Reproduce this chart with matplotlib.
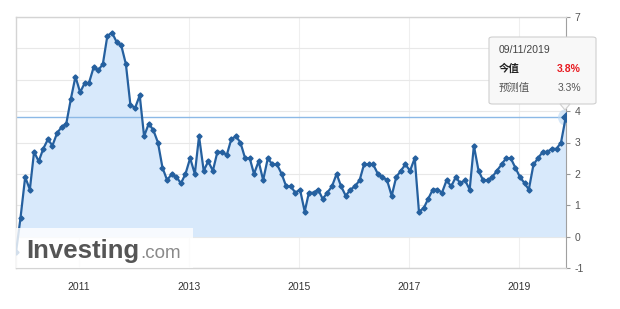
import pandas as pd
import matplotlib.pyplot as plt
from matplotlib.patches import FancyBboxPatch, Polygon

# China CPI YoY (%), Oct 2009 .. Oct 2019, plotted at release dates
cpi = [
    -0.5, 0.6, 1.9,
    1.5, 2.7, 2.4, 2.8, 3.1, 2.9, 3.3, 3.5, 3.6, 4.4, 5.1, 4.6,
    4.9, 4.9, 5.4, 5.3, 5.5, 6.4, 6.5, 6.2, 6.1, 5.5, 4.2, 4.1,
    4.5, 3.2, 3.6, 3.4, 3.0, 2.2, 1.8, 2.0, 1.9, 1.7, 2.0, 2.5,
    2.0, 3.2, 2.1, 2.4, 2.1, 2.7, 2.7, 2.6, 3.1, 3.2, 3.0, 2.5,
    2.5, 2.0, 2.4, 1.8, 2.5, 2.3, 2.3, 2.0, 1.6, 1.6, 1.4, 1.5,
    0.8, 1.4, 1.4, 1.5, 1.2, 1.4, 1.6, 2.0, 1.6, 1.3, 1.5, 1.6,
    1.8, 2.3, 2.3, 2.3, 2.0, 1.9, 1.8, 1.3, 1.9, 2.1, 2.3, 2.1,
    2.5, 0.8, 0.9, 1.2, 1.5, 1.5, 1.4, 1.8, 1.6, 1.9, 1.7, 1.8,
    1.5, 2.9, 2.1, 1.8, 1.8, 1.9, 2.1, 2.3, 2.5, 2.5, 2.2, 1.9,
    1.7, 1.5, 2.3, 2.5, 2.7, 2.7, 2.8, 2.8, 3.0, 3.8,
]
release_dates = pd.date_range('2009-11-01', periods=len(cpi), freq='MS') + pd.Timedelta(days=8)
year_ticks = pd.to_datetime(['2011-01-01', '2013-01-01', '2015-01-01', '2017-01-01', '2019-01-01'])
year_labels = ['2011', '2013', '2015', '2017', '2019']
y_ticks = [-1, 0, 1, 2, 3, 4, 5, 6, 7]
y_labels = ['-1', '0', '1', '2', '3', '4', '', '', '7']  # 5 and 6 sit under the tooltip
tip_date = '09/11/2019'
actual_label, actual_value = '今值', '3.8%'
forecast_label, forecast_value = '预测值', '3.3%'

LINE = '#25609f'
FILL = '#d8e9fb'
LATIN_CJK = ['Liberation Sans', 'Noto Sans CJK SC', 'DejaVu Sans']

plt.rcParams['font.family'] = LATIN_CJK

fig = plt.figure(figsize=(6.2, 3.09), dpi=100)
ax = fig.add_axes([16 / 620, 1 - 268 / 309, 550 / 620, 251 / 309])

ax.fill_between(release_dates, cpi, 0, color=FILL, lw=0, zorder=1)
ax.axhline(cpi[-1], color='#8cb9e6', lw=1, zorder=2)
ax.plot(release_dates, cpi, color=LINE, lw=1.6, marker='D', ms=2.6, zorder=3)
ax.scatter(release_dates[-1:], cpi[-1:], s=150, color='#bcd8f3', alpha=0.6, lw=0, zorder=2)
ax.scatter(release_dates[-1:], cpi[-1:], s=22, color=LINE, marker='D', zorder=4)

ax.set_xlim(pd.Timestamp('2009-11-09'), pd.Timestamp('2019-11-11'))
ax.set_ylim(-1, 7)

ax.yaxis.tick_right()
ax.set_yticks(y_ticks)
ax.set_yticklabels(y_labels)
ax.set_xticks(year_ticks)
ax.set_xticklabels(year_labels)
ax.tick_params(axis='y', length=3, width=0.8, color='#999999', pad=3, labelsize=7.5, labelcolor='#555555')
ax.tick_params(axis='x', length=0, pad=10, labelsize=7.5, labelcolor='#333333')

ax.grid(axis='y', color='#e8e8e8', lw=0.8)
ax.grid(axis='x', color='#efefef', lw=0.8)
ax.set_axisbelow(True)
for side in ['left', 'top', 'bottom']:
    ax.spines[side].set_color('#d4d4d4')
    ax.spines[side].set_linewidth(1)
ax.spines['right'].set_color('#a0a0a0')
ax.spines['right'].set_linewidth(0.8)

# investing.com watermark box
fig.patches.append(FancyBboxPatch((16 / 620, 1 - 268 / 309), 177 / 620, 40 / 309,
                                  boxstyle='square,pad=0', transform=fig.transFigure,
                                  fc='white', ec='none', alpha=0.8, zorder=5))
logo = fig.text(26 / 620, 1 - 258 / 309, 'Investing', fontsize=18.5, fontweight='bold',
                color='#555555', family=LATIN_CJK, zorder=6)
fig.canvas.draw()
logo_end = logo.get_window_extent().x1 / fig.bbox.width
fig.text(logo_end + 1 / 620, 1 - 258 / 309, '.com', fontsize=13.5, color='#8a8a8a',
         family=LATIN_CJK, zorder=6)

# tooltip
tip = FancyBboxPatch((489 / 620, 1 - 104 / 309), 107 / 620, 67 / 309,
                     boxstyle='round,pad=0,rounding_size=0.006', transform=fig.transFigure,
                     fc='#f8f8f8', ec='#cfcfcf', lw=0.8, zorder=7)
fig.patches.append(tip)
fig.patches.append(Polygon([(560 / 620, 1 - 104 / 309), (570 / 620, 1 - 104 / 309),
                            (565 / 620, 1 - 110 / 309)], closed=True, transform=fig.transFigure,
                           fc='#f8f8f8', ec='#cfcfcf', lw=0.8, zorder=7))
fig.text(499 / 620, 1 - 50 / 309, tip_date, fontsize=7.5, color='#444444', va='center', zorder=8)
fig.text(499 / 620, 1 - 69 / 309, actual_label, fontsize=7.5, fontweight='bold',
         color='#222222', va='center', zorder=8)
fig.text(581 / 620, 1 - 69 / 309, actual_value, fontsize=7.5, fontweight='bold',
         color='#e8191f', va='center', ha='right', zorder=8)
fig.text(499 / 620, 1 - 88 / 309, forecast_label, fontsize=7.5, color='#555555', va='center', zorder=8)
fig.text(581 / 620, 1 - 88 / 309, forecast_value, fontsize=7.5, color='#555555',
         va='center', ha='right', zorder=8)

fig.savefig('out.png', dpi=100, facecolor='white')
